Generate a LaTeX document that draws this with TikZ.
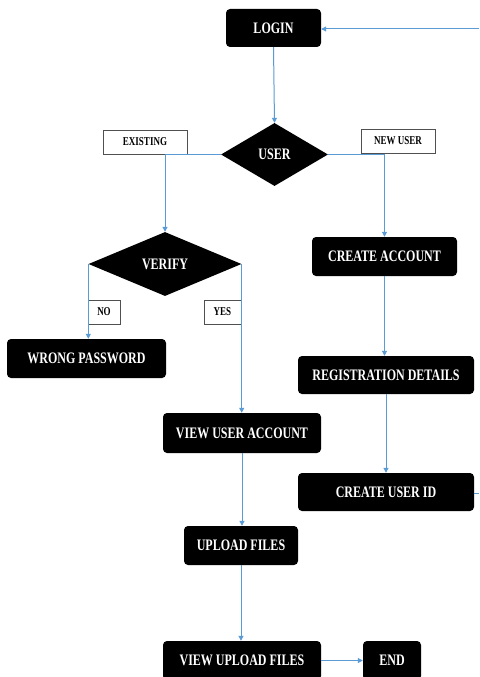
\documentclass[tikz,border=0pt]{standalone}
\usepackage{fontspec}
\setmainfont[FakeStretch=0.75]{Liberation Serif}
\usetikzlibrary{shapes.geometric,arrows.meta}
\definecolor{flow}{HTML}{5B9BD5}
\definecolor{lblborder}{HTML}{505050}
\begin{document}
\begin{tikzpicture}[x=1pt,y=-1pt,
  proc/.style={rectangle, rounded corners=4pt, fill=black, text=white, inner sep=0pt,
    font=\bfseries\fontsize{16}{16}\selectfont},
  decide/.style={diamond, fill=black, text=white, inner sep=0pt,
    font=\bfseries\fontsize{16}{16}\selectfont},
  lbl/.style={rectangle, draw=lblborder, line width=0.8pt, fill=white, text=black, inner sep=0pt,
    minimum height=24pt, font=\bfseries\fontsize{12}{12}\selectfont},
  conn/.style={draw=flow, line width=1pt},
  arr/.style={conn, -{Triangle[length=5pt,width=5pt]}}
]
\useasboundingbox[fill=white] (0,0) rectangle (479,677);

\node[proc, minimum width=95pt, minimum height=38pt] (login) at (273.5,28) {LOGIN};
\node[decide, minimum width=107pt, minimum height=63pt, aspect=1.7] (user) at (274.5,154.5) {USER};
\node[decide, minimum width=153pt, minimum height=64pt, aspect=2.4] (verify) at (165,264) {VERIFY};
\node[proc, minimum width=145pt, minimum height=39pt] (create) at (384.5,256.5) {CREATE ACCOUNT};
\node[proc, minimum width=159pt, minimum height=39pt] (wrong) at (86.5,358.5) {WRONG PASSWORD};
\node[proc, minimum width=176pt, minimum height=38pt] (reg) at (386,375) {REGISTRATION DETAILS};
\node[proc, minimum width=158pt, minimum height=40pt] (vua) at (242,433) {VIEW USER ACCOUNT};
\node[proc, minimum width=176pt, minimum height=38pt] (cuid) at (386,492) {CREATE USER ID};
\node[proc, minimum width=114pt, minimum height=39pt] (upload) at (241,545.5) {UPLOAD FILES};
\node[proc, minimum width=158pt, minimum height=39pt] (vuf) at (242,660.5) {VIEW UPLOAD FILES};
\node[proc, minimum width=58pt, minimum height=39pt] (end) at (392,660.5) {END};

\node[lbl, minimum width=84pt] (existing) at (145,142) {EXISTING};
\node[lbl, minimum width=74pt] (newuser) at (398,141) {NEW USER};
\node[lbl, minimum width=32pt] (no) at (104,312) {NO};
\node[lbl, minimum width=37pt] (yes) at (222.5,312) {YES};

\coordinate (loopin) at (479,29);
\coordinate (loopout) at (479,493);

\draw[arr] (login.south) -- (user.north);
\draw[arr] (user.west) -| (verify.north);
\draw[arr] (user.east) -| (create.north);
\draw[arr] (verify.west) -- (verify.west |- wrong.north);
\draw[arr] (verify.east) -- (verify.east |- vua.north);
\draw[arr] (create.south) -- (create.south |- reg.north);
\draw[arr] (reg.south) -- (cuid.north);
\draw[conn] (cuid.east |- loopout) -- (loopout);
\draw[arr] (loopin) -- (loopin -| login.east);
\draw[arr] (vua.south) -- (vua.south |- upload.north);
\draw[arr] (upload.south) -- (upload.south |- vuf.north);
\draw[arr] (vuf.east) -- (end.west);
\end{tikzpicture}
\end{document}
